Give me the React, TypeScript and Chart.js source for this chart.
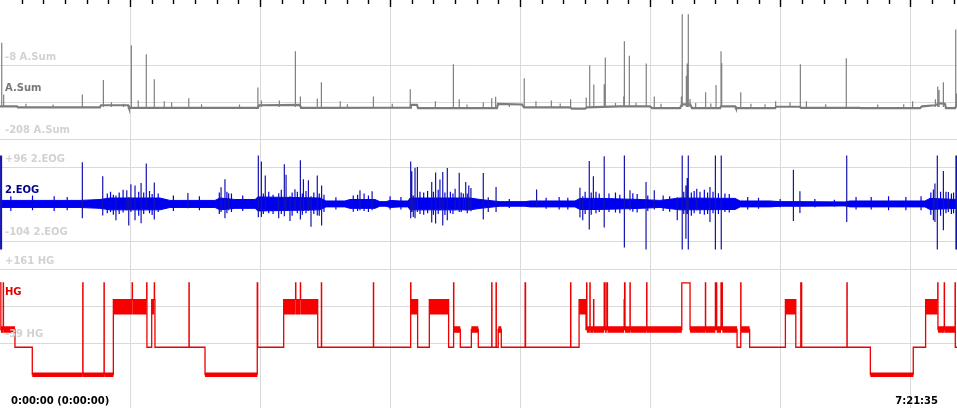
import React, { useEffect, useRef } from "react";
import { Chart, registerables } from "chart.js";

Chart.register(...registerables);

// ---------- data ----------
const TOTAL_SECONDS = 26495; // 7:21:35
const TOTAL_MIN = TOTAL_SECONDS / 60;

const channelNames = ["A.Sum", "2.EOG", "HG"];
const asumTicks = [-208, -108, -8];
const eogTicks = [-104, -4, 96];
const hgTicks = [-39, 61, 161];

// A.Sum baseline (time in minutes, value)
const asumBaseT = [0, 7.8, 8.3, 46.1, 46.6, 59.1, 59.5, 119.0, 119.5, 138.4, 138.9, 189.2, 189.6, 192.4, 192.9, 229.3, 229.8, 240.9, 241.8, 263.0, 263.9, 269.9, 270.9, 286.1, 299.9, 300.9, 313.8, 314.7, 318.4, 319.3, 332.2, 332.7, 339.2, 339.6, 357.6, 358.1, 369.1, 369.6, 396.8, 397.3, 424.5, 425.4, 431.4, 433.7, 436.0, 436.5, 440.7, 441.6];
const asumBaseV = [-119, -119, -121.5, -121.5, -116, -116, -123, -123, -116, -115, -123, -122.5, -115, -115, -124, -124, -112.5, -114, -121.5, -121.5, -125, -125, -121.5, -119, -119, -123.5, -123.5, -113.4, -113.4, -124, -124, -119, -119, -124, -124, -120, -120, -123, -123, -124, -124, -119, -116, -110.7, -112, -124, -124, -113];
const ASUM_SPIKE_BASE = -121;
// A.Sum spikes [time, top value]
const asumSpikes: [number, number][] = [
  [0.8, 53], [1.7, -87], [38.0, -87], [47.7, -48], [51.4, -108], [60.6, 46], [63.8, -103], [67.5, 22], [71.2, -46], [75.8, -105],
  [79.2, -108], [87.1, -97], [119.0, -68], [120.6, -103], [128.9, -103], [136.3, 30], [138.6, -92], [146.4, -98], [148.3, -54], [157.0, -105],
  [172.3, -92], [189.3, -73], [200.9, -105], [209.2, -5], [211.9, -100], [223.0, -108], [226.9, -97], [228.7, -93], [241.9, -43], [247.3, -105],
  [254.4, -103], [263.3, -100], [270.5, -95], [272.1, -8], [274.0, -60], [278.8, -59], [279.3, 13], [287.8, -92], [288.1, 57], [290.4, 18],
  [298.2, -3], [301.9, -92], [314.4, -92], [314.8, 130], [316.7, -36], [317.1, -3], [317.6, 130], [318.4, -99], [325.6, -81], [330.4, -61],
  [332.7, 30], [333.0, -2], [341.8, -81], [357.9, -105], [364.5, -108], [369.3, -5], [372.1, -105], [390.5, 11], [421.1, -105], [431.6, -100],
  [432.7, -65], [433.3, -75], [435.3, -54], [441.0, 89], [441.3, -84],
  [12.0, -112], [24.5, -114], [57.0, -112], [93.0, -113], [110.5, -114], [160.3, -113], [181.0, -112], [215.5, -114], [235.0, -113], [258.5, -111],
  [284.0, -110], [293.5, -109], [305.0, -112], [321.0, -110], [328.0, -111], [346.5, -112], [353.0, -113], [381.0, -113], [405.0, -114], [417.0, -113],
];

// 2.EOG activity band (time, upper, lower)
const eogEnvT = [0, 36.9, 46.1, 50.8, 73.8, 78.4, 99.2, 101.5, 108.4, 117.7, 119.0, 147.7, 150.4, 159.2, 161.5, 173.0, 175.3, 178.1, 180.0, 184.6, 188.3, 189.2, 216.9, 221.5, 230.7, 242.3, 244.6, 265.3, 267.6, 276.9, 295.3, 304.5, 313.8, 339.2, 341.5, 355.3, 359.9, 369.1, 389.9, 392.2, 426.8, 429.1, 441.6];
const eogHi = [6.5, 6.5, 9, 13, 13, 6.5, 6.5, 13, 9, 9, 16, 13, 5, 5, 9, 9, 3.2, 3.2, 6.5, 5, 5, 13, 13, 9, 3.2, 3.2, 5, 5, 12, 12, 9, 6.5, 13, 12, 5, 5, 3.2, 3.2, 2.4, 5, 5, 12, 9];
const eogLo = [-12.5, -12.5, -15, -19, -19, -12.5, -12.5, -19, -15, -15, -22, -19, -11, -11, -15, -15, -9.2, -9.2, -12.5, -11, -11, -19, -19, -15, -9.2, -9.2, -11, -11, -18, -18, -15, -12.5, -19, -18, -11, -11, -9.2, -9.2, -8.4, -11, -11, -18, -15];
// 2.EOG large spikes [time, high, low]
const eogSpikes: [number, number, number][] = [
  [0.3, 128, -126], [0.7, 128, -126], [38.0, 109.5, -42], [47.4, 71.6, -34], [53.5, 20, -47], [58.5, 34, -20], [59.4, 15, -61], [60.4, 50, -25],
  [62.3, 47, -47], [65.1, 53.5, -55], [67.5, 106, -11], [71.2, 55, -45], [86.7, 26.5, -15], [102.0, 42, -25], [103.8, 63.5, -42], [105.5, 26, -20],
  [119.2, 128, -39], [120.6, 112, -38], [122.4, 74, -20], [128.6, 26, -42], [131.2, 104, -36.5], [132.0, 76, -20], [133.8, 18, -49], [136.1, 36.5, -20],
  [138.6, 115, -45], [140.0, 63.5, -22], [142.3, 61, -22], [143.5, 18, -65], [146.4, 74, -34], [148.4, 47, -61], [166.1, 34, -20], [171.7, 31, -20],
  [189.5, 112, -42], [190.0, 85, -25], [190.7, 20, -38], [191.5, 95, -42], [192.6, 97, -25], [199.2, 56, -53.5], [201.0, 82, -56], [203.0, 63, -20],
  [204.3, 83, -61], [206.4, 94, -47], [210.0, 38, -20], [211.9, 81.6, -25], [213.8, 25, -18], [214.9, 56, -20], [216.3, 47, -20], [217.3, 40, -23],
  [223.0, 80.6, -45], [225.3, 15, -25], [228.9, 42.7, -25], [247.6, 35.7, -12], [267.6, 41, -40], [268.9, 18, -47], [271.9, 113, -72], [273.8, 71.6, -11],
  [278.8, 125.7, -67], [288.1, 128, -121], [290.7, 34, -20], [298.1, 56, -126], [301.9, 34, -18], [312.5, 15, -47], [314.8, 128, -126], [316.5, 47, -97],
  [317.1, 67, -30], [317.6, 128, -126], [321.5, 38, -20], [327.6, 42.7, -52], [330.1, 128, -126], [332.8, 128, -126], [366.1, 89.7, -49], [369.1, 31, -27.6],
  [390.7, 128, -52], [430.7, 35.7, -47], [431.4, 52, -52], [432.5, 128, -126], [435.3, 86, -74], [437.6, 29, -25], [441.1, 128, -126], [441.4, 128, -126],
];
// 2.EOG small activity spikes [time, high, low]
const eogSmall: [number, number, number][] = [
  [5, 18, -22], [15, 20, -20], [25, 18, -22], [31, 16, -20], [49.5, 25, -28], [51.0, 30, -25], [52.3, 22, -32], [55.0, 28, -30], [56.8, 35, -26],
  [64.0, 30, -35], [66.3, 28, -30], [69.0, 32, -28], [70.2, 24, -33], [73.0, 25, -25], [80, 20, -22], [92, 18, -20], [101.2, 28, -30], [104.7, 30, -28],
  [106.8, 25, -25], [112, 20, -22], [121.5, 25, -30], [124.0, 30, -28], [126.0, 22, -30], [129.8, 35, -30], [134.8, 28, -35], [137.2, 30, -28],
  [139.5, 25, -32], [141.2, 32, -28], [144.8, 28, -30], [147.3, 25, -35], [149.5, 22, -25], [155, 15, -18], [163, 20, -24], [165, 22, -22],
  [168, 25, -22], [170, 20, -25], [180, 18, -18], [185, 16, -18], [193.8, 30, -30], [195.5, 28, -32], [197.3, 32, -28], [200.0, 30, -32],
  [202.2, 35, -30], [205.3, 28, -33], [207.8, 30, -28], [209.0, 25, -30], [212.8, 28, -25], [215.6, 25, -28], [235, 10, -14], [252, 14, -16],
  [258, 16, -18], [262, 14, -18], [270.0, 30, -30], [272.8, 28, -32], [275.0, 30, -28], [276.5, 25, -25], [281, 25, -25], [284, 28, -26],
  [286, 22, -28], [292, 26, -24], [294, 24, -26], [298.9, 20, -22], [306, 20, -22], [309, 18, -24], [315.5, 30, -30], [319.0, 28, -35],
  [320.3, 32, -28], [323.0, 30, -30], [325.0, 35, -32], [326.5, 28, -30], [329.0, 30, -28], [331.5, 26, -30], [334.5, 25, -25], [336.5, 24, -26],
  [345, 16, -18], [350, 14, -16], [360, 10, -12], [376, 10, -12], [385, 8, -10], [395, 16, -18], [402, 16, -18], [410, 18, -20], [418, 16, -20],
  [425, 18, -20], [429.5, 28, -32], [434.0, 30, -35], [436.5, 30, -28], [439.0, 25, -30], [440.0, 28, -28],
];

// HG stages [start time, stage]
const hgLevels: Record<string, number> = { W: 124, R: 79, N1: -2, N2: -50, N3: -124 };
const hgBandMid: Record<string, number> = { R: 59, N1: -2, N3: -124 };
const hgSteps: [number, string][] = [
  [0.0, "W"], [0.4, "N1"], [1.5, "W"], [1.6, "N1"], [6.9, "N2"], [14.9, "N3"], [38.2, "W"], [38.3, "N3"], [48.0, "W"], [48.1, "N3"],
  [52.3, "R"], [61.0, "W"], [61.1, "R"], [67.7, "W"], [67.8, "N2"], [70.0, "R"], [71.2, "W"], [71.3, "R"], [71.5, "N2"], [87.2, "W"],
  [87.3, "N2"], [94.6, "N3"], [118.7, "W"], [118.9, "N2"], [130.9, "R"], [136.4, "W"], [136.5, "R"], [138.6, "W"], [138.7, "R"], [146.6, "N2"],
  [148.3, "W"], [148.4, "N2"], [172.3, "W"], [172.4, "N2"], [189.5, "W"], [189.6, "R"], [192.7, "N2"], [198.1, "R"], [207.0, "N2"], [209.3, "W"],
  [209.4, "N1"], [212.4, "N2"], [217.5, "N1"], [220.7, "N2"], [226.9, "W"], [227.0, "N2"], [228.9, "W"], [229.0, "N2"], [229.9, "N1"], [231.3, "N2"],
  [242.3, "W"], [242.5, "N2"], [263.3, "W"], [263.4, "N2"], [267.2, "R"], [270.4, "N1"], [270.7, "W"], [270.8, "N1"], [272.2, "W"], [272.3, "N1"],
  [273.9, "R"], [274.0, "N1"], [278.8, "W"], [279.2, "N1"], [280.0, "W"], [280.3, "N1"], [288.0, "R"], [288.2, "W"], [288.4, "N1"], [290.7, "W"],
  [290.8, "N1"], [298.4, "W"], [298.5, "N1"], [314.6, "W"], [318.4, "N1"], [325.5, "W"], [325.6, "N1"], [330.1, "W"], [330.7, "N1"], [332.7, "W"],
  [333.3, "N1"], [340.1, "N2"], [341.8, "W"], [341.9, "N1"], [345.9, "N2"], [362.4, "R"], [367.2, "N2"], [369.5, "W"], [369.9, "N2"], [390.8, "W"],
  [390.9, "N2"], [401.6, "N3"], [421.4, "N2"], [427.1, "R"], [432.7, "W"], [432.8, "N1"], [435.7, "W"], [435.8, "N1"], [440.7, "W"], [440.8, "N2"],
  [441.6, "N2"],
];

// ---------- layout / style ----------
const W = 957;
const H = 408;
const PX_PER_UNIT = 74 / 200;
const FONT = 'bold 10px "DejaVu Sans", Verdana, sans-serif';

function axisRange(topTick: number, topPx: number) {
  const max = topTick + topPx / PX_PER_UNIT;
  const min = max - H / PX_PER_UNIT;
  return { min, max };
}

function fmtTime(sec: number) {
  const h = Math.floor(sec / 3600);
  const m = Math.floor((sec % 3600) / 60);
  const s = Math.floor(sec % 60);
  return `${h}:${String(m).padStart(2, "0")}:${String(s).padStart(2, "0")}`;
}

function fmtSigned(v: number) {
  return (v > 0 ? "+" : "") + v;
}

const labelPlugin = {
  id: "psgLabels",
  afterDraw(chart: any) {
    const { ctx, scales } = chart;
    const xs = scales.x;
    ctx.save();
    ctx.strokeStyle = "#000";
    ctx.lineWidth = 1.4;
    for (let m = 10; m <= TOTAL_MIN; m += 10) {
      const px = Math.round(xs.getPixelForValue(m)) + 0.5;
      const len = m % 60 === 0 ? 7 : 4;
      ctx.beginPath();
      ctx.moveTo(px, 0);
      ctx.lineTo(px, len);
      ctx.stroke();
    }
    ctx.font = FONT;
    ctx.textBaseline = "middle";
    ctx.textAlign = "left";
    const chans = [
      { id: "yA", ticks: asumTicks, name: channelNames[0], color: "#787878" },
      { id: "yE", ticks: eogTicks, name: channelNames[1], color: "#00008b" },
      { id: "yH", ticks: hgTicks, name: channelNames[2], color: "#e00000" },
    ];
    for (const c of chans) {
      const s = scales[c.id];
      const [bot, mid, top] = c.ticks;
      ctx.fillStyle = "#d2d2d2";
      ctx.fillText(`${fmtSigned(top)} ${c.name}`, 5, s.getPixelForValue(top) - 8);
      ctx.fillText(`${fmtSigned(bot)} ${c.name}`, 5, s.getPixelForValue(bot) - 8.5);
      ctx.fillStyle = c.color;
      ctx.fillText(c.name, 5, s.getPixelForValue(mid) - 14);
    }
    ctx.fillStyle = "#000";
    ctx.fillText(`${fmtTime(0)} (${fmtTime(0)})`, 11, 401);
    ctx.textAlign = "right";
    ctx.fillText(fmtTime(TOTAL_SECONDS), 938, 401);
    ctx.restore();
  },
};

function yAxis(ticks: number[], topPx: number) {
  const r = axisRange(ticks[2], topPx);
  return {
    type: "linear" as const,
    position: "left" as const,
    min: r.min,
    max: r.max,
    bounds: "data" as const,
    afterBuildTicks: (scale: any) => {
      scale.ticks = ticks.map((v) => ({ value: v }));
    },
    ticks: { display: false },
    grid: { color: "#dadada", lineWidth: 1, drawTicks: false },
    border: { display: false },
  };
}

export default function App() {
  const ref = useRef<HTMLCanvasElement | null>(null);

  useEffect(() => {
    if (!ref.current) return;

    const asumBase = asumBaseT.map((t, i) => ({ x: t, y: asumBaseV[i] }));
    const asumSpikePts = asumSpikes.flatMap(([t, top]) => [
      { x: t, y: ASUM_SPIKE_BASE },
      { x: t, y: top },
      { x: t, y: null },
    ]);
    const eogUpper = eogEnvT.map((t, i) => ({ x: t, y: eogHi[i] }));
    const eogLower = eogEnvT.map((t, i) => ({ x: t, y: eogLo[i] }));
    const segs = (list: [number, number, number][]) =>
      list.flatMap(([t, hi, lo]) => [
        { x: t, y: lo },
        { x: t, y: hi },
        { x: t, y: null },
      ]);
    const hgLine = hgSteps.map(([t, s]) => ({ x: t, y: hgLevels[s] }));
    const band = (stage: string) => {
      const pts: { x: number; y: number | null }[] = [];
      for (let i = 0; i < hgSteps.length - 1; i++) {
        if (hgSteps[i][1] !== stage) continue;
        const t0 = hgSteps[i][0];
        const t1 = hgSteps[i + 1][0];
        pts.push({ x: t0, y: hgBandMid[stage] }, { x: t1, y: hgBandMid[stage] }, { x: t1, y: null });
      }
      return pts;
    };

    const base = { pointRadius: 0, spanGaps: false, tension: 0, fill: false, borderCapStyle: "butt" as const };
    const red = "rgb(236,0,0)";

    const chart = new Chart(ref.current, {
      type: "line",
      data: {
        datasets: [
          { ...base, data: band("R"), yAxisID: "yH", borderColor: "#f60000", borderWidth: 15 },
          { ...base, data: band("N1"), yAxisID: "yH", borderColor: "#f60000", borderWidth: 6.5 },
          { ...base, data: band("N3"), yAxisID: "yH", borderColor: "#f20000", borderWidth: 4.5 },
          { ...base, data: hgLine, yAxisID: "yH", borderColor: red, borderWidth: 1.3, stepped: true },
          { ...base, data: segs(eogSpikes), yAxisID: "yE", borderColor: "rgb(20,20,175)", borderWidth: 1.2 },
          { ...base, data: segs(eogSmall), yAxisID: "yE", borderColor: "rgb(0,0,235)", borderWidth: 1.2 },
          { ...base, data: eogUpper, yAxisID: "yE", borderColor: "#0000f0", borderWidth: 1, fill: "+1", backgroundColor: "#0000f0" },
          { ...base, data: eogLower, yAxisID: "yE", borderColor: "#0000f0", borderWidth: 1 },
          { ...base, data: asumSpikePts, yAxisID: "yA", borderColor: "#808080", borderWidth: 1.2 },
          { ...base, data: asumBase, yAxisID: "yA", borderColor: "#7c7c7c", borderWidth: 2.2 },
        ],
      },
      options: {
        responsive: false,
        animation: false,
        devicePixelRatio: 1,
        events: [],
        layout: { padding: 0 },
        plugins: { legend: { display: false }, tooltip: { enabled: false }, title: { display: false } },
        scales: {
          x: {
            type: "linear",
            min: 0,
            max: TOTAL_MIN,
            bounds: "data",
            afterBuildTicks: (scale: any) => {
              const t = [];
              for (let m = 60; m < TOTAL_MIN; m += 60) t.push({ value: m });
              scale.ticks = t;
            },
            ticks: { display: false },
            grid: { color: "#dadada", lineWidth: 1, drawTicks: false },
            border: { display: false },
          },
          yA: yAxis(asumTicks, 65.3),
          yE: yAxis(eogTicks, 167.3),
          yH: yAxis(hgTicks, 269.2),
        },
      },
      plugins: [labelPlugin],
    } as any);

    return () => chart.destroy();
  }, []);

  return (
    <div style={{ position: "absolute", left: 0, top: 0, width: W, height: H, background: "#fff" }}>
      <canvas ref={ref} width={W} height={H} style={{ display: "block", width: W, height: H }} />
    </div>
  );
}
